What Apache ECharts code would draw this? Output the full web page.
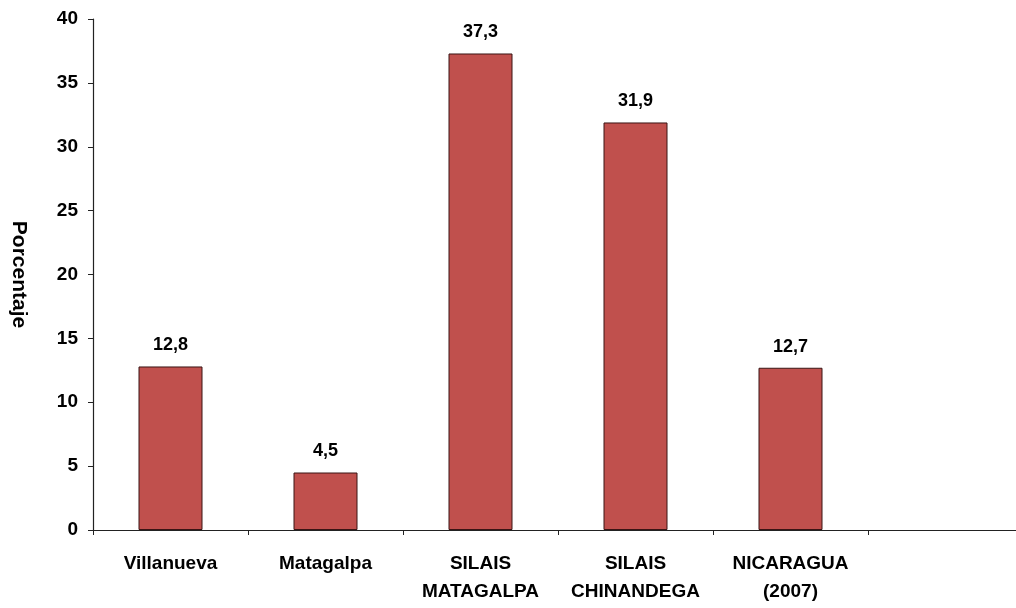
<!DOCTYPE html>
<html>
<head>
<meta charset="utf-8">
<script src="https://cdn.jsdelivr.net/npm/echarts@6/dist/echarts.min.js"></script>
<style>
  html, body { margin: 0; padding: 0; background: #ffffff; }
  #chart { width: 1016px; height: 608px; }
</style>
</head>
<body>
<div id="chart"></div>
<script>
// Categories (the sixth slot is left empty on purpose)
const categories = ['Villanueva', 'Matagalpa', 'SILAIS\nMATAGALPA', 'SILAIS\nCHINANDEGA', 'NICARAGUA\n(2007)', ''];
// Percentage per category
const values = [12.8, 4.5, 37.3, 31.9, 12.7, null];
// Y axis ticks
const yMin = 0, yMax = 40, yStep = 5;

const font = 'Liberation Sans, Arial, sans-serif';
const chart = echarts.init(document.getElementById('chart'), null, { renderer: 'canvas' });

chart.setOption({
  backgroundColor: '#ffffff',
  animation: false,
  grid: { left: 93, right: -7, top: 19, bottom: 78, containLabel: false, outerBoundsMode: 'none' },
  xAxis: {
    type: 'category',
    data: categories,
    boundaryGap: true,
    axisLine: { show: true, lineStyle: { color: '#222', width: 1.2 } },
    axisTick: { show: true, alignWithLabel: false, length: 5, lineStyle: { color: '#222' } },
    axisLabel: {
      interval: 0,
      margin: 20,
      color: '#000',
      fontFamily: font,
      fontWeight: 'bold',
      fontSize: 19,
      lineHeight: 28
    },
    splitLine: { show: false }
  },
  yAxis: {
    type: 'value',
    min: yMin,
    max: yMax,
    interval: yStep,
    name: 'Porcentaje',
    nameLocation: 'middle',
    nameRotate: -90,
    nameGap: 64,
    nameTextStyle: { color: '#000', fontFamily: font, fontWeight: 'bold', fontSize: 21 },
    axisLine: { show: true, lineStyle: { color: '#222', width: 1.2 } },
    axisTick: { show: true, length: 5, lineStyle: { color: '#222' } },
    axisLabel: { margin: 15, color: '#000', fontFamily: font, fontWeight: 'bold', fontSize: 19 },
    splitLine: { show: false }
  },
  series: [{
    type: 'bar',
    data: values,
    barWidth: 64,
    itemStyle: { color: '#C0504D', borderColor: '#3a1414', borderWidth: 1 },
    label: {
      show: true,
      position: 'top',
      distance: 12,
      color: '#000',
      fontFamily: font,
      fontWeight: 'bold',
      fontSize: 18,
      formatter: p => p.value == null ? '' : String(p.value).replace('.', ',')
    }
  }]
});
</script>
</body>
</html>
